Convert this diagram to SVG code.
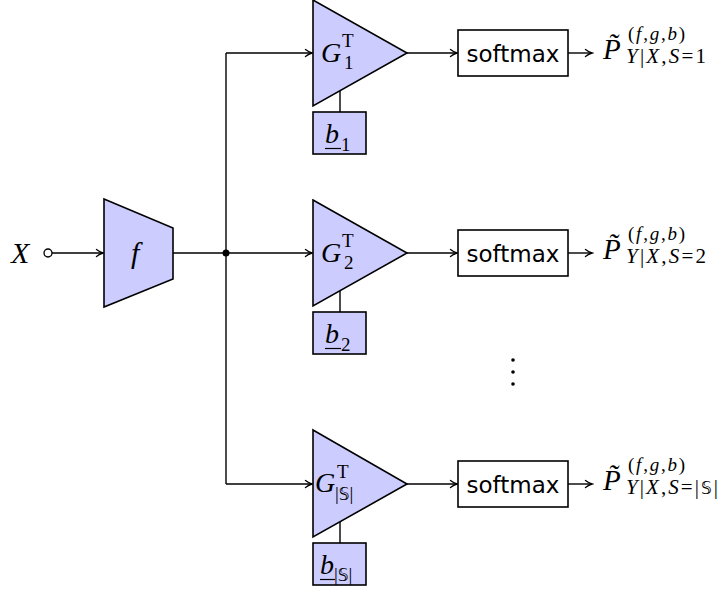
<svg xmlns="http://www.w3.org/2000/svg" width="722" height="590" viewBox="0 0 722 590">
<style>
.math{font-family:"Liberation Serif","DejaVu Serif",serif;fill:#000}
.it{font-style:italic}
.big{font-size:28px}
.sm{font-size:19px}
.sub{font-size:21px}
.bb{font-family:"DejaVu Sans",sans-serif;font-size:17px;fill:#000}
.sans{font-family:"DejaVu Sans","Liberation Sans",sans-serif;font-size:23px;fill:#000}
.blk{fill:#ccccff;stroke:#000;stroke-width:1.6;stroke-linejoin:miter}
.box{fill:#fff;stroke:#000;stroke-width:1.6}
.wire{fill:none;stroke:#000;stroke-width:1.4}
</style>
<defs>
<marker id="arr" markerWidth="10" markerHeight="10" refX="8" refY="5" orient="auto" markerUnits="userSpaceOnUse">
<path d="M1.5,1.5 Q5,4.2 8,5 Q5,5.8 1.5,8.5" fill="none" stroke="#000" stroke-width="1.3" stroke-linecap="round"/>
</marker>
</defs>
<g id="connectors">
<line class="wire" x1="52" y1="253" x2="103" y2="253" marker-end="url(#arr)"/>
<line class="wire" x1="173" y1="253" x2="226" y2="253" stroke-width="2"/>
<polyline class="wire" points="226,53 226,484"/>
<polyline class="wire" points="226,53 312,53" marker-end="url(#arr)"/>
<polyline class="wire" points="226,253 312,253" marker-end="url(#arr)"/>
<polyline class="wire" points="226,484 312,484" marker-end="url(#arr)"/>
<circle cx="226" cy="253" r="3.5" fill="#000"/>
<line class="wire" x1="340" y1="91" x2="340" y2="112"/>
<line class="wire" x1="340" y1="291" x2="340" y2="312"/>
<line class="wire" x1="340" y1="522" x2="340" y2="543"/>
<line class="wire" x1="407" y1="53" x2="457" y2="53" marker-end="url(#arr)"/>
<line class="wire" x1="407" y1="253" x2="457" y2="253" marker-end="url(#arr)"/>
<line class="wire" x1="407" y1="484" x2="457" y2="484" marker-end="url(#arr)"/>
<line class="wire" x1="568" y1="53" x2="592" y2="53" marker-end="url(#arr)"/>
<line class="wire" x1="568" y1="253" x2="592" y2="253" marker-end="url(#arr)"/>
<line class="wire" x1="568" y1="484" x2="592" y2="484" marker-end="url(#arr)"/>
</g>
<g id="input">
<text class="math it" font-size="30" x="11" y="263">X</text>
<circle cx="48" cy="253" r="4" fill="#fff" stroke="#000" stroke-width="1.3"/>
</g>
<g id="f">
<polygon class="blk" points="104,199 173,228 173,279 104,307"/>
<text class="math it" font-size="30" x="131" y="263">f</text>
</g>
<g id="G1">
<polygon class="blk" points="313,0 407,53 313,106"/>
<text class="math it big" x="321" y="62">G</text>
<text class="math sm" x="342" y="47">T</text>
<text class="math sm" x="344" y="69">1</text>
</g>
<g id="b1">
<rect class="blk" x="313" y="112" width="53" height="42"/>
<text class="math it big" x="325" y="143">b</text>
<line x1="325" y1="148.5" x2="341" y2="148.5" stroke="#000" stroke-width="1.2"/>
<text class="math sm" x="341" y="151">1</text>
</g>
<g id="G2">
<polygon class="blk" points="313,200 407,253 313,306"/>
<text class="math it big" x="321" y="262">G</text>
<text class="math sm" x="342" y="247">T</text>
<text class="math sm" x="344" y="269">2</text>
</g>
<g id="b2">
<rect class="blk" x="313" y="312" width="53" height="42"/>
<text class="math it big" x="325" y="343">b</text>
<line x1="325" y1="348.5" x2="341" y2="348.5" stroke="#000" stroke-width="1.2"/>
<text class="math sm" x="341" y="351">2</text>
</g>
<g id="G3">
<polygon class="blk" points="313,430 407,484 313,537"/>
<text class="math it big" x="315" y="492">G</text>
<text class="math sm" x="337" y="478">T</text>
<text class="math sm" x="335" y="500">|<tspan class="bb">𝕊</tspan>|</text>
</g>
<g id="b3">
<rect class="blk" x="313" y="543" width="53" height="42"/>
<text class="math it big" x="320" y="574">b</text>
<line x1="320" y1="579.5" x2="335" y2="579.5" stroke="#000" stroke-width="1.2"/>
<text class="math sm" x="334" y="581">|<tspan class="bb">𝕊</tspan>|</text>
</g>
<g id="softmax1">
<rect class="box" x="458" y="30" width="110" height="46"/>
<text class="sans" x="513" y="62" text-anchor="middle">softmax</text>
</g>
<g id="softmax2">
<rect class="box" x="458" y="230" width="110" height="46"/>
<text class="sans" x="513" y="262" text-anchor="middle">softmax</text>
</g>
<g id="softmax3">
<rect class="box" x="458" y="461" width="110" height="46"/>
<text class="sans" x="513" y="493" text-anchor="middle">softmax</text>
</g>
<g id="dots">
<circle cx="513" cy="360" r="1.8" fill="#000"/>
<circle cx="513" cy="372" r="1.8" fill="#000"/>
<circle cx="513" cy="384" r="1.8" fill="#000"/>
</g>
<g id="out1">
<text class="math it" font-size="29" x="603" y="59">P̃</text>
<text class="math sm" x="628" y="40" textLength="57" lengthAdjust="spacing">(<tspan class="it">f</tspan>,<tspan class="it">g</tspan>,<tspan class="it">b</tspan>)</text>
<text class="math sub" x="626" y="63" textLength="80" lengthAdjust="spacing"><tspan class="it">Y</tspan>|<tspan class="it">X</tspan>,<tspan class="it">S</tspan>=1</text>
</g>
<g id="out2">
<text class="math it" font-size="29" x="603" y="259">P̃</text>
<text class="math sm" x="628" y="240" textLength="57" lengthAdjust="spacing">(<tspan class="it">f</tspan>,<tspan class="it">g</tspan>,<tspan class="it">b</tspan>)</text>
<text class="math sub" x="626" y="263" textLength="80" lengthAdjust="spacing"><tspan class="it">Y</tspan>|<tspan class="it">X</tspan>,<tspan class="it">S</tspan>=2</text>
</g>
<g id="out3">
<text class="math it" font-size="29" x="603" y="490">P̃</text>
<text class="math sm" x="628" y="471" textLength="57" lengthAdjust="spacing">(<tspan class="it">f</tspan>,<tspan class="it">g</tspan>,<tspan class="it">b</tspan>)</text>
<text class="math sub" x="626" y="494" textLength="92" lengthAdjust="spacing"><tspan class="it">Y</tspan>|<tspan class="it">X</tspan>,<tspan class="it">S</tspan>=|<tspan class="bb">𝕊</tspan>|</text>
</g>
</svg>
